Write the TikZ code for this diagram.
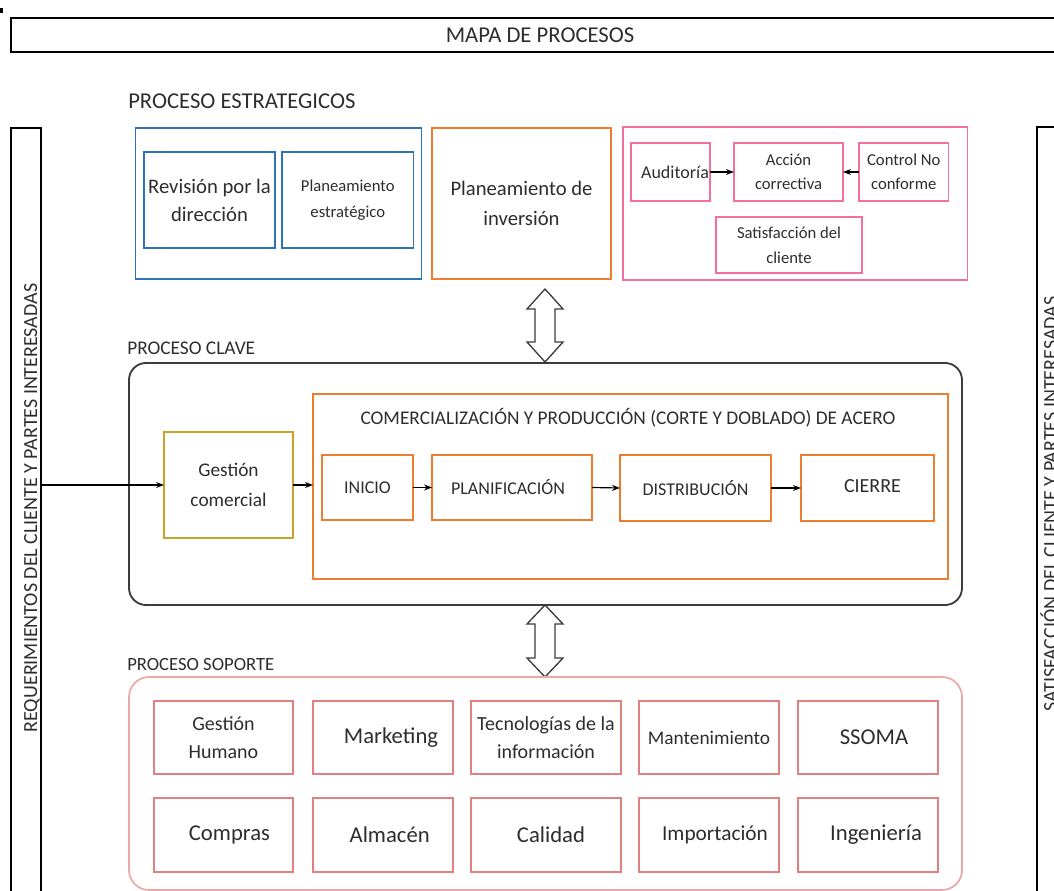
\documentclass[tikz,border=0pt]{standalone}
\usepackage{fontspec}
\setmainfont{Carlito}
\usetikzlibrary{calc,arrows.meta}
\definecolor{txt}{RGB}{45,45,45}
\definecolor{cblue}{RGB}{46,117,182}
\definecolor{corange}{RGB}{237,125,49}
\definecolor{cpink}{RGB}{245,110,160}
\definecolor{cgold}{RGB}{201,162,39}
\definecolor{csoft}{RGB}{236,168,168}
\definecolor{cred}{RGB}{226,128,128}
\definecolor{cdark}{RGB}{60,60,60}
\newcommand{\shtext}[2]{\makebox[0pt]{\hspace*{#1}#2}}
\tikzset{
  rect/.style 2 args={minimum width={#1*0.75pt}, minimum height={#2*0.75pt}},
  bx/.style={draw=#1, inner sep=0pt, outer sep=0pt, align=center, text=txt},
  fs/.style 2 args={font=\fontsize{#1}{#2}\selectfont},
  arr/.style={-{Stealth[length=6pt,width=4.5pt]}, line width=0.9pt, black},
  hollow/.style={draw=cdark, fill=white, line width=1pt, line join=miter},
  lbl/.style={text=txt, anchor=west, inner sep=0pt},
  side/.style={draw=black, line width=1.4pt, inner sep=0pt, outer sep=0pt},
  sbox/.style={bx=cred, line width=1.1pt},
}
\begin{document}
\begin{tikzpicture}[x=0.75pt,y=-0.75pt]
\useasboundingbox (0,0) rectangle (1054,891);
\clip (0,0) rectangle (1054,891);
\fill[black] (0,8) rectangle (2.5,13);

% title
\node[bx=black, line width=1.4pt, rect={1058}{34}, fs={17}{20}] (title) at (540,35) {MAPA DE PROCESOS};

% side boxes
\node[side, rect={30}{772}] (lbox) at (26,514) {};
\node[side, rect={53}{773}] (rbox) at (1063.5,513.5) {};
\node[rotate=90, anchor=base, fs={15}{18}, text=txt, inner sep=0pt] (ltxt) at (37,508) {REQUERIMIENTOS DEL CLIENTE Y PARTES INTERESADAS};
\node[rotate=90, anchor=base, fs={15}{18}, text=txt, inner sep=0pt] (rtxt) at (1057,504) {SATISFACCIÓN DEL CLIENTE Y PARTES INTERESADAS};

% strategic
\node[lbl, fs={17}{20}] (pe) at (128,101) {PROCESO ESTRATEGICOS};
\node[bx=cblue, line width=1.3pt, rect={286}{151}] (blue) at (278.5,203.5) {};
\node[bx=cblue, line width=1.2pt, rect={131}{96}, fs={15.5}{21}] (rev) at (209.5,200) {Revisión por la\\dirección};
\node[bx=cblue, line width=1.2pt, rect={131.5}{96}, fs={12.5}{20}] (pest) at (347.75,200) {Planeamiento\\estratégico};
\node[bx=corange, line width=1.3pt, rect={179}{151}, fs={15.5}{22.5}] (pinv) at (521.5,203.5) {Planeamiento de\\inversión};
\node[bx=cpink, line width=1.3pt, rect={344.5}{153}] (pink) at (795.25,203.5) {};
\node[bx=cpink, line width=1.2pt, rect={79}{58}, fs={13.5}{16}] (aud) at (670.5,172) {\shtext{6.75pt}{Auditoría}};
\node[bx=cpink, line width=1.2pt, rect={109}{58}, fs={12.5}{18}] (acc) at (788.5,172) {Acción\\correctiva};
\node[bx=cpink, line width=1.2pt, rect={89.5}{58}, fs={12.5}{18}] (cnc) at (903.75,172) {Control No\\conforme};
\node[bx=cpink, line width=1.2pt, rect={146}{56}, fs={12.5}{19}] (sat) at (789,245) {Satisfacción del\\cliente};
\draw[arr] (aud.east) -- (acc.west);
\draw[arr] (cnc.west) -- (acc.east);

% double arrow 1
\coordinate (da1) at (545,289);
\draw[hollow] (da1) -- ++(18,20) -- ++(-8,0) -- ++(0,33) -- ++(8,0) -- ++(-18,20)
  -- ++(-18,-20) -- ++(8,0) -- ++(0,-33) -- ++(-8,0) -- cycle;

% key process
\node[lbl, fs={14.5}{17}] (pc) at (127,348.5) {PROCESO CLAVE};
\node[draw=cdark, line width=1.4pt, rounded corners=12.75pt, inner sep=0pt, outer sep=0pt, rect={833}{242}] (key) at (545.5,484) {};
\node[bx=cgold, line width=1.2pt, rect={129}{106}, fs={14.5}{22.5}] (gc) at (228.5,485) {Gestión\\comercial};
\node[bx=corange, line width=1.2pt, rect={635}{185}] (comp) at (630.5,486.5) {};
\node[fs={14.5}{17}, text=txt, inner sep=0pt] (comptxt) at (628,418) {COMERCIALIZACIÓN Y PRODUCCIÓN (CORTE Y DOBLADO) DE ACERO};
\node[bx=corange, line width=1.2pt, rect={91}{65}, fs={13.5}{16}] (ini) at (367.5,487.5) {INICIO};
\node[bx=corange, line width=1.2pt, rect={160}{65}, fs={13.5}{16}] (plan) at (512,487.5) {\shtext{-6pt}{PLANIFICACIÓN}};
\node[bx=corange, line width=1.2pt, rect={151}{66}, fs={13.5}{16}] (dist) at (695.5,488) {DISTRIBUCIÓN};
\node[bx=corange, line width=1.2pt, rect={133}{66}, fs={15}{18}] (cie) at (867.5,488) {\raisebox{2.25pt}{\shtext{7.5pt}{CIERRE}}};
\draw[arr] (gc.west -| lbox.east) -- (gc.west);
\draw[arr] (gc.east) -- (gc.east -| comp.west);
\draw[arr] (ini.east) -- (plan.west);
\draw[arr] (plan.east) -- (dist.west);
\draw[arr] (dist.east) -- (cie.west);

% double arrow 2
\coordinate (da2) at (545,605);
\draw[hollow] (da2) -- ++(18,19) -- ++(-8,0) -- ++(0,34) -- ++(8,0) -- ++(-18,19)
  -- ++(-18,-19) -- ++(8,0) -- ++(0,-34) -- ++(-8,0) -- cycle;

% support
\node[lbl, fs={14}{17}] (ps) at (127,664.5) {PROCESO SOPORTE};
\node[draw=csoft, line width=1.3pt, rounded corners=15pt, inner sep=0pt, outer sep=0pt, rect={833}{213}] (sup) at (545.5,783.5) {};
\node[sbox, rect={139}{73}, fs={15}{21}] (s1) at (223.5,737.5) {Gestión\\Humano};
\node[sbox, rect={140}{73}, fs={17}{20}] (s2) at (383,737.5) {\shtext{12pt}{Marketing}};
\node[sbox, rect={150}{73}, fs={15}{21}] (s3) at (546,737.5) {Tecnologías de la\\información};
\node[sbox, rect={140}{73}, fs={14.5}{18}] (s4) at (709,737.5) {Mantenimiento};
\node[sbox, rect={140}{73}, fs={17}{20}] (s5) at (868,737.5) {\shtext{9pt}{SSOMA}};
\node[sbox, rect={139}{74}, fs={17}{20}] (s6) at (223.5,835) {\shtext{9pt}{Compras}};
\node[sbox, rect={140}{74}, fs={17}{20}] (s7) at (383,835) {\shtext{10pt}{Almacén}};
\node[sbox, rect={150}{74}, fs={17}{20}] (s8) at (546,835) {\shtext{7.5pt}{Calidad}};
\node[sbox, rect={140}{74}, fs={16}{20}] (s9) at (709,835) {\shtext{9pt}{Importación}};
\node[sbox, rect={140}{74}, fs={17}{20}] (s10) at (868,835) {\shtext{12pt}{Ingeniería}};
\end{tikzpicture}
\end{document}
